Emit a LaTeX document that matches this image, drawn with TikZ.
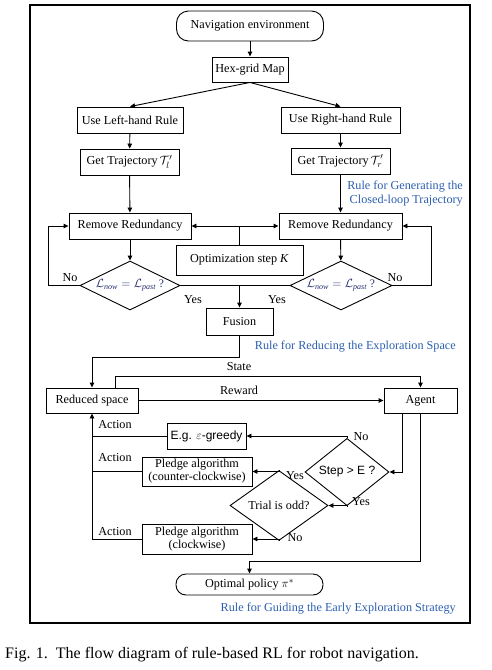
\documentclass[tikz,border=0pt]{standalone}
\usepackage{fontspec}
\setmainfont{Liberation Serif}
\newfontfamily\arial{Liberation Sans}
\usetikzlibrary{shapes.geometric,arrows.meta,calc}
\definecolor{ruleblue}{RGB}{45,95,175}
\definecolor{diamtext}{RGB}{35,45,110}
\tikzset{
  base/.style={font=\fontsize{12.2}{14}\selectfont, inner sep=0pt, draw, line width=0.9pt},
  boxn/.style={base, rectangle},
  roundn/.style={base, rectangle, rounded corners=12pt},
  diam/.style={base, diamond},
  lbl/.style={font=\fontsize{12.2}{14}\selectfont, inner sep=0pt},
  rulelbl/.style={font=\fontsize{12.2}{14}\selectfont, inner sep=0pt, text=ruleblue, align=right},
  conn/.style={line width=0.9pt},
  arr/.style={line width=0.9pt, -{Triangle[length=5pt,width=4.5pt]}},
}
\begin{document}
\begin{tikzpicture}[x=1pt,y=-1pt]
\useasboundingbox (0,0) rectangle (491,670);
\draw[line width=1.4pt] (30,5) rectangle (470,623);

\node[roundn, minimum width=147, minimum height=30] (nav) at (250,26) {Navigation environment};
\node[boxn, minimum width=76, minimum height=25] (hex) at (250,69.5) {Hex-grid Map};
\node[boxn, minimum width=106, minimum height=26] (left) at (130,120) {Use Left-hand Rule};
\node[boxn, minimum width=119, minimum height=26] (right) at (340.5,120) {Use Right-hand Rule};
\node[boxn, minimum width=99, minimum height=26] (gtl) at (129.5,162) {Get Trajectory\,\(\mathcal{T}'_l\)};
\node[boxn, minimum width=99, minimum height=26] (gtr) at (340.5,161) {Get Trajectory\,\(\mathcal{T}'_r\)};
\node[rulelbl, anchor=east] (rgen) at (463,194) {Rule for Generating the\\Closed-loop Trajectory};
\node[boxn, minimum width=122, minimum height=26] (rrl) at (130,226) {Remove Redundancy};
\node[boxn, minimum width=123, minimum height=26] (rrr) at (340.5,226) {Remove Redundancy};
\node[boxn, minimum width=127, minimum height=30] (opt) at (239.5,260) {Optimization step \textit{K}};
\node[diam, aspect=2, minimum width=100, minimum height=49, text=diamtext, font=\fontsize{11.5}{13}\selectfont] (dl) at (130,285.5) {\(\mathcal{L}_{\mathit{now}} = \mathcal{L}_{\mathit{past}}\) ?};
\node[diam, aspect=2, minimum width=102, minimum height=49, text=diamtext, font=\fontsize{11.5}{13}\selectfont] (dr) at (341,285.5) {\(\mathcal{L}_{\mathit{now}} = \mathcal{L}_{\mathit{past}}\) ?};
\node[boxn, minimum width=67, minimum height=27] (fusion) at (239.5,321.5) {Fusion};
\node[rulelbl, anchor=east] (rred) at (456,347) {Rule for Reducing the Exploration Space};
\node[boxn, minimum width=92, minimum height=25] (reduced) at (92,400.5) {Reduced space};
\node[boxn, minimum width=73, minimum height=25] (agent) at (420.5,400.5) {Agent};
\node[boxn, minimum width=79, minimum height=26, font=\arial\fontsize{12}{14}\selectfont] (greedy) at (206.5,436) {E.g. \(\varepsilon\)-greedy};
\node[diam, minimum width=84, minimum height=48, font=\arial\fontsize{12}{14}\selectfont] (step) at (347,472) {Step > E ?};
\node[boxn, minimum width=110, minimum height=29, align=center, font=\fontsize{12.2}{13}\selectfont] (pcc) at (197,471.5) {Pledge algorithm\\(counter-clockwise)};
\node[diam, minimum width=98, minimum height=55] (trial) at (279,505.5) {Trial is odd?};
\node[boxn, minimum width=110, minimum height=30, align=center, font=\fontsize{12.2}{13}\selectfont] (pcw) at (197,539) {Pledge algorithm\\(clockwise)};
\node[roundn, rounded corners=10pt, minimum width=147, minimum height=21] (optimal) at (249.5,584.5) {Optimal policy \(\pi^*\)};
\node[rulelbl, anchor=east] (rguide) at (456,609) {Rule for Guiding the Early Exploration Strategy};
\node[font=\fontsize{16}{19}\selectfont, inner sep=0pt, anchor=west] (cap) at (5,655) {Fig. 1.\ \ The flow diagram of rule-based RL for robot navigation.};

% labels
\node[lbl] (nol) at (70,278) {No};
\node[lbl] (nor) at (395,278) {No};
\node[lbl] (yesl) at (193,300) {Yes};
\node[lbl] (yesr) at (277,300) {Yes};
\node[lbl] (state) at (239,367) {State};
\node[lbl] (reward) at (239,390) {Reward};
\node[lbl] (act1) at (115,425) {Action};
\node[lbl] (act2) at (115,458) {Action};
\node[lbl] (act3) at (115,532) {Action};
\node[lbl] (no1) at (361,437) {No};
\node[lbl] (yes1) at (361,502) {Yes};
\node[lbl] (yes2) at (295,476) {Yes};
\node[lbl] (no2) at (295,538) {No};

% coordinates
\coordinate (nl) at (48,285.5);
\coordinate (nr) at (431,285.5);
\coordinate (fz) at (239.5,357);
\coordinate (st) at (115,388);
\coordinate (sttop) at (115,376);
\coordinate (agb) at (402,413);
\coordinate (agr) at (420.5,561);

% connectors
\draw[arr] (nav) -- (hex);
\draw[arr] (hex.south) -- (left.north);
\draw[arr] (hex.south) -- (right.north);
\draw[arr] (left) -- (gtl);
\draw[arr] (right) -- (gtr);
\draw[arr] (gtl) -- (rrl);
\draw[arr] (gtr) -- (rrr);
\draw[arr] (opt.north) |- (rrl.east);
\draw[arr] (opt.north) |- (rrr.west);
\draw[arr] (rrl) -- (dl);
\draw[arr] (rrr) -- (dr);
\draw[arr] (dl.west) -- (nl) |- (rrl.west);
\draw[arr] (dr.east) -- (nr) |- (rrr.east);
\draw[conn] (dl.east) -- (dr.west);
\draw[arr] (fusion.north |- dl.east) -- (fusion.north);
\draw[arr] (fusion.south) -- (fz) -| (reduced.north);
\draw[arr] (st) -- (sttop) -| (agent.north);
\draw[arr] (reduced.east) -- (agent.west);
\draw[arr] (agb) |- (step.east);
\draw[arr] (step.north) |- (greedy.east);
\draw[arr] (step.south) |- (trial.east);
\draw[arr] (trial.north) |- (pcc.east);
\draw[arr] (trial.south) |- (pcw.east);
\draw[conn] (greedy.west) -- (greedy.west -| reduced.south);
\draw[conn] (pcc.west) -- (pcc.west -| reduced.south);
\draw[arr] (pcw.west) -| (reduced.south);
\draw[arr] (agent.south) -- (agr) -| (optimal.north);
\end{tikzpicture}
\end{document}
